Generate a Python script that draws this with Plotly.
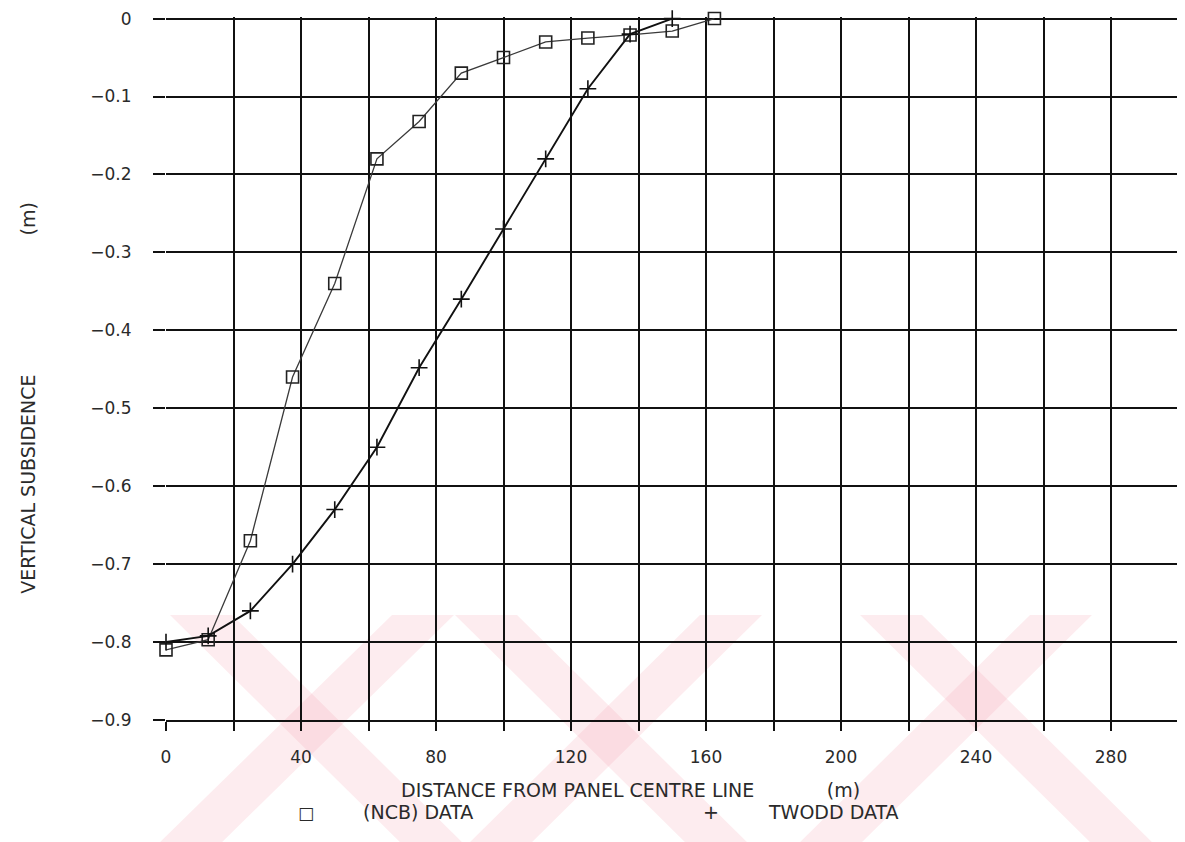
import plotly.graph_objects as go

# ---- data ----
ncb_x = [0, 12.5, 25, 37.5, 50, 62.5, 75, 87.5, 100, 112.5, 125, 137.5, 150, 162.5]
ncb_y = [-0.81, -0.797, -0.67, -0.46, -0.34, -0.18, -0.132, -0.07, -0.05, -0.03, -0.025, -0.021, -0.016, 0.0]

twodd_x = [0, 12.5, 25, 37.5, 50, 62.5, 75, 87.5, 100, 112.5, 125, 137.5, 150]
twodd_y = [-0.80, -0.792, -0.76, -0.70, -0.63, -0.55, -0.448, -0.36, -0.27, -0.18, -0.09, -0.02, 0.0]

x_tickvals = list(range(0, 301, 20))
x_ticktext = ["0", "", "40", "", "80", "", "120", "", "160", "", "200", "", "240", "", "280", ""]
y_tickvals = [0, -0.1, -0.2, -0.3, -0.4, -0.5, -0.6, -0.7, -0.8, -0.9]
y_ticktext = ["0", "\u22120.1", "\u22120.2", "\u22120.3", "\u22120.4", "\u22120.5",
              "\u22120.6", "\u22120.7", "\u22120.8", "\u22120.9"]

FONT = "DejaVu Sans"
TXT = "#2a2a2a"

# page has an 8px body margin; screen geometry of the plot area
OFF = 8
W, H = 1185 - OFF, 842 - OFF
X0PX, XSCALE = 166.0, 3.375          # screen x of x=0, px per metre
Y0PX, YM09PX = 19.0, 720.0           # screen y of 0 and of -0.9
YTOP = 0.002
YSC = (YM09PX - Y0PX) / 0.9
PL, PR = X0PX, 1185.0
PT, PB = Y0PX - YTOP * YSC, YM09PX
XMAX = (PR - X0PX) / XSCALE

def pap(sx, sy):
    return (sx - PL) / (PR - PL), (PB - sy) / (PB - PT)

fig = go.Figure()

fig.add_trace(go.Scatter(
    x=ncb_x, y=ncb_y, mode="lines+markers", name="(NCB) DATA", cliponaxis=False,
    line=dict(color="#3a3a3a", width=1.3),
    marker=dict(symbol="square-open", size=12, color="#222222", line=dict(width=1.6)),
))
fig.add_trace(go.Scatter(
    x=twodd_x, y=twodd_y, mode="lines+markers", name="TWODD DATA", cliponaxis=False,
    line=dict(color="#111111", width=1.9),
    marker=dict(symbol="cross-thin-open", size=12, color="#111111", line=dict(width=1.6)),
))

# faint pink watermark bands (decorative)
bands = [
    [(170, 615), (232, 615), (462, 842), (400, 842)],
    [(392, 615), (454, 615), (222, 842), (160, 842)],
    [(455, 615), (517, 615), (747, 842), (685, 842)],
    [(700, 615), (762, 615), (532, 842), (470, 842)],
    [(860, 615), (922, 615), (1152, 842), (1090, 842)],
    [(1030, 615), (1092, 615), (862, 842), (800, 842)],
]
for b in bands:
    pts = [pap(x, y) for x, y in b]
    path = "M " + " L ".join(f"{a:.4f},{c:.4f}" for a, c in pts) + " Z"
    fig.add_shape(type="path", path=path, xref="paper", yref="paper",
                  fillcolor="rgba(245,160,175,0.2)", line=dict(width=0), layer="below")

fig.update_layout(
    width=W, height=H,
    margin=dict(l=PL - OFF, r=W - (PR - OFF), t=PT - OFF, b=H - (PB - OFF), autoexpand=False),
    paper_bgcolor="white", plot_bgcolor="rgba(0,0,0,0)",
    showlegend=False,
    font=dict(family=FONT, size=16, color=TXT),
    xaxis=dict(
        range=[0, XMAX], tickvals=x_tickvals, ticktext=x_ticktext,
        showgrid=True, gridcolor="#111111", gridwidth=2,
        zeroline=False, showline=True, linecolor="#111111", linewidth=2,
        ticks="outside", ticklen=9, tickcolor="#111111", tickwidth=2,
        ticklabelstandoff=12, tickfont=dict(size=17, color=TXT),
        ticklabeloverflow="allow",
    ),
    yaxis=dict(
        range=[-0.9, YTOP], tickvals=y_tickvals, ticktext=y_ticktext,
        showgrid=True, gridcolor="#111111", gridwidth=2,
        zeroline=False, showline=False,
        ticks="outside", ticklen=12, tickcolor="#111111", tickwidth=2,
        ticklabelstandoff=18, tickfont=dict(size=17, color=TXT),
        ticklabeloverflow="allow",
    ),
)

def ann(sx, sy, text, size=19, xanchor="center", angle=0):
    x, y = pap(sx, sy)
    fig.add_annotation(x=x, y=y, xref="paper", yref="paper", text=text, textangle=angle,
                       xanchor=xanchor, showarrow=False,
                       font=dict(size=size, family=FONT, color=TXT))

NB = "&nbsp;"
ann(399, 803, "DISTANCE FROM PANEL CENTRE LINE" + NB * 12 + "(m)", xanchor="left")
ann(28, 398, "VERTICAL SUBSIDENCE" + NB * 23 + "(m)", angle=-90)
ann(306, 825, "\u25a1", size=17)
ann(361, 825, "(NCB) DATA", xanchor="left")
ann(711, 825, "+", size=19)
ann(766, 825, "TWODD DATA", xanchor="left")

fig.write_html("out.html")
